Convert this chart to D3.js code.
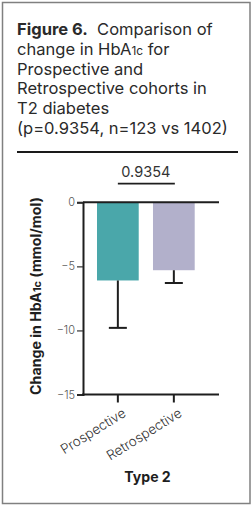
<!DOCTYPE html>
<html><head><meta charset="utf-8">
<script src="https://cdn.jsdelivr.net/npm/d3@7"></script>
<style>
html,body{margin:0;padding:0;background:#fff;}
svg{display:block;}
text{font-family:Inter, "Open Sans", sans-serif;}
</style></head>
<body>
<svg id="c" width="252" height="507"></svg>
<script>
// ---- data ----
const categories = ["Prospective", "Retrospective"];
const meanChange = [-6.1, -5.3];
const errorLow = [-9.8, -6.3];
const barColors = ["#4aa7aa", "#b2b0cb"];
const yTicks = [0, -5, -10, -15];
const pValue = "0.9354";
const groupLabel = "Type 2";

const svg = d3.select("#c");
function fit(sel, target) {
  const fs = parseFloat(sel.attr("font-size"));
  const w = sel.node().getBBox().width;
  const nfs = fs * target / w;
  sel.attr("font-size", nfs);
  sel.selectAll("tspan[data-rel]").each(function(){
    const t = d3.select(this); t.attr("font-size", nfs * +t.attr("data-rel"));
  });
  return nfs;
}

// frame
svg.append("rect").attr("x",2.5).attr("y",2.5).attr("width",247.5).attr("height",501)
  .attr("fill","#fff").attr("stroke","#808080").attr("stroke-width",1.5);

// title
const lines = [
  [["Figure 6.", "bold"], ["  Comparison of", "normal"]],
  [["change in HbA", "normal"], ["1c", "sub"], [" for", "normal"]],
  [["Prospective and", "normal"]],
  [["Retrospective cohorts in", "normal"]],
  [["T2 diabetes", "normal"]],
  [["(p=0.9354, n=123 vs 1402)", "normal"]]
];
const tl = lines.map((ln, i) => {
  const t = svg.append("text").attr("x",17).attr("y",35 + i*19.8).attr("fill","#2a2a2a")
    .attr("font-size",15.5).style("white-space","pre");
  ln.forEach(([s, k]) => {
    const ts = t.append("tspan").text(s);
    if (k === "bold") ts.attr("font-weight", 700);
    if (k === "sub") ts.attr("data-rel", 0.72).attr("font-size", 11);
  });
  return t;
});
const tfs = fit(tl[5], 211);
tl.forEach(t => { t.attr("font-size", tfs); t.selectAll("tspan[data-rel]").attr("font-size", tfs*0.72); });

svg.append("line").attr("x1",17).attr("x2",238).attr("y1",152).attr("y2",152)
  .attr("stroke","#1a1a1a").attr("stroke-width",2.2);

// scales
const x0 = 83, xEnd = 219;
const y = d3.scaleLinear().domain([-15, 0]).range([394.5, 202.3]);
const x = d3.scaleBand().domain(categories).range([x0, 208.7]).paddingInner(0.255).paddingOuter(0.25);

// bars
const g = svg.append("g");
g.selectAll("rect.bar").data(categories).join("rect")
  .attr("x", d => x(d)).attr("width", x.bandwidth())
  .attr("y", y(0)).attr("height", (d,i) => y(meanChange[i]) - y(0))
  .attr("fill", (d,i) => barColors[i]);

// error bars (downward)
categories.forEach((c, i) => {
  const cx = x(c) + x.bandwidth()/2;
  g.append("line").attr("x1",cx).attr("x2",cx).attr("y1",y(meanChange[i])).attr("y2",y(errorLow[i]))
    .attr("stroke","#1e1e1e").attr("stroke-width",2);
  g.append("line").attr("x1",cx-9).attr("x2",cx+9).attr("y1",y(errorLow[i])).attr("y2",y(errorLow[i]))
    .attr("stroke","#1e1e1e").attr("stroke-width",2);
});

// y axis
const yAxis = d3.axisLeft(y).tickValues(yTicks).tickSize(6).tickPadding(2).tickFormat(d3.format("d"));
const ya = svg.append("g").attr("transform",`translate(${x0},0)`).call(yAxis);
ya.select(".domain").attr("stroke","#1e1e1e").attr("stroke-width",2);
ya.selectAll(".tick line").attr("stroke","#333").attr("stroke-width",1.2);
ya.selectAll(".tick text").attr("fill","#555").attr("font-size",11).attr("font-family","Inter, sans-serif").attr("font-weight",300);

// zero line
svg.append("line").attr("x1",x0).attr("x2",xEnd).attr("y1",y(0)).attr("y2",y(0))
  .attr("stroke","#1e1e1e").attr("stroke-width",2);

// x axis
const xAxis = d3.axisBottom(x).tickSize(8).tickSizeOuter(0).tickPadding(4);
const xa = svg.append("g").attr("transform",`translate(0,${y(-15)})`).call(xAxis);
xa.select(".domain").remove();
xa.append("line").attr("x1",x0-1).attr("x2",xEnd).attr("y1",0).attr("y2",0).attr("stroke","#1e1e1e").attr("stroke-width",2);
xa.selectAll(".tick line").attr("stroke","#1e1e1e").attr("stroke-width",2);
xa.selectAll(".tick text").attr("fill","#333").attr("font-size",13.5).attr("font-family","Inter, sans-serif")
  .attr("font-weight",300)
  .attr("text-anchor","end").attr("dy",0).attr("y",0).attr("transform","translate(9,21) rotate(-32)");

// y title
const yt = svg.append("text").attr("transform",`translate(41,${(197+395)/2}) rotate(-90)`)
  .attr("text-anchor","middle").attr("font-weight",700).attr("font-size",12.5).attr("fill","#1e1e1e");
yt.append("tspan").text("Change in HbA");
yt.append("tspan").text("1c").attr("data-rel",0.76).attr("font-size",9.5);
yt.append("tspan").text(" (mmol/mol)");
fit(yt, 198);

// x title
const xt = svg.append("text").attr("x",147.5).attr("y",481.7).attr("text-anchor","middle").attr("font-weight",700)
  .attr("font-size",13.5).attr("fill","#1e1e1e").text(groupLabel);
fit(xt, 46.5);

// significance
const sx1 = x(categories[0]) + x.bandwidth()/2, sx2 = x(categories[1]) + x.bandwidth()/2;
svg.append("line").attr("x1",sx1).attr("x2",sx2+1).attr("y1",183.7).attr("y2",183.7)
  .attr("stroke","#1e1e1e").attr("stroke-width",1.8);
const pt = svg.append("text").attr("x",(sx1+sx2)/2).attr("y",176.7).attr("text-anchor","middle")
  .attr("font-size",13).attr("fill","#333").text(pValue);
fit(pt, 49);
</script>
</body></html>
